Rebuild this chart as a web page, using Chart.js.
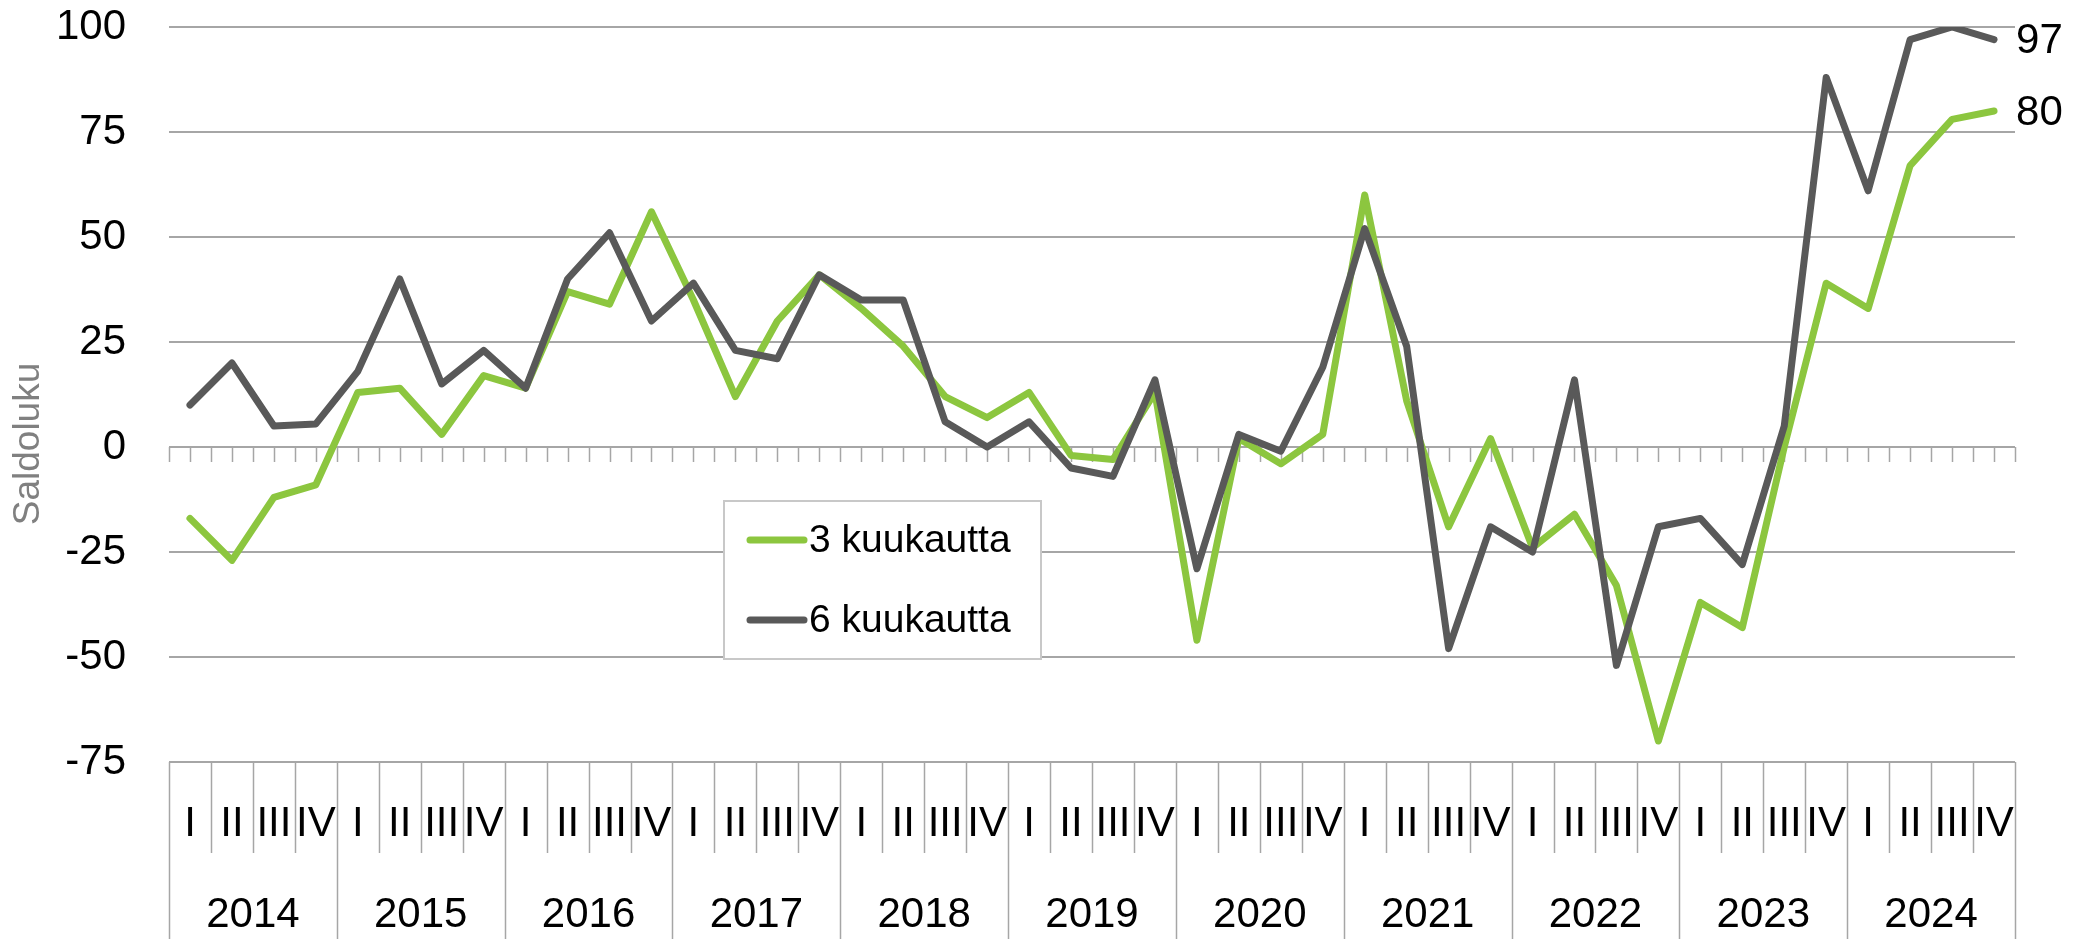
<!DOCTYPE html>
<html><head><meta charset="utf-8">
<script src="https://cdn.jsdelivr.net/npm/chart.js@4.4.1/dist/chart.umd.min.js"></script>
<style>html,body{margin:0;padding:0;background:#fff;overflow:hidden}#wrap{width:2075px;height:939px}</style>
</head><body><div id="wrap"><canvas id="c" width="2075" height="939"></canvas></div>
<script>
// ---- data ----
const years = ['2014','2015','2016','2017','2018','2019','2020','2021','2022','2023','2024'];
const quarters = ['I','II','III','IV'];
const categories = years.flatMap(y => quarters.map(q => y + ' ' + q));
const seriesNames = ['3 kuukautta', '6 kuukautta'];
const series3 = [-17,-27,-12,-9, 13,14,3,17, 14,37,34,56, 35,12,30,41, 33,24,12,7, 13,-2,-3,13,
                 -46,2,-4,3, 60,11,-19,2, -24,-16,-33,-70, -37,-43,0,39, 33,67,78,80];
const series6 = [10,20,5,5.5, 18,40,15,23, 14,40,51,30, 39,23,21,41, 35,35,6,0, 6,-5,-7,16,
                 -29,3,-1,19, 52,24,-48,-19, -25,16,-52,-19, -17,-28,5,88, 61,97,100,97];
const yMin = -75, yMax = 100, yStep = 25;
const yTitle = 'Saldoluku';

// ---- style ----
const FONT = '"Liberation Sans", Arial, sans-serif';
const GRID = '#a6a6a6';
const GREEN = '#8cc63f';
const DARK = '#595959';

const decor = {
  id: 'decor',
  beforeDatasetsDraw(chart) {
    const ctx = chart.ctx, xs = chart.scales.x, ys = chart.scales.y;
    const n = categories.length;
    const w = xs.getPixelForValue(1) - xs.getPixelForValue(0);
    const start = xs.getPixelForValue(0) - w / 2;
    const y0 = ys.getPixelForValue(0);
    ctx.save();
    ctx.strokeStyle = GRID; ctx.lineWidth = 1.5;
    ctx.beginPath();
    for (let k = 0; k <= 2 * n; k++) {
      const px = Math.round(start + k * w / 2) + 0.5;
      ctx.moveTo(px, y0); ctx.lineTo(px, y0 + 15);
    }
    ctx.stroke();
    ctx.restore();
  },
  afterDraw(chart) {
    const ctx = chart.ctx, xs = chart.scales.x, ys = chart.scales.y, ca = chart.chartArea;
    const n = categories.length;
    const w = xs.getPixelForValue(1) - xs.getPixelForValue(0);
    const start = xs.getPixelForValue(0) - w / 2;
    const yb = ca.bottom;
    ctx.save();
    // category axis separators
    ctx.strokeStyle = GRID; ctx.lineWidth = 1.5;
    ctx.beginPath();
    for (let i = 0; i <= n; i++) {
      const px = Math.round(start + i * w) + 0.5;
      ctx.moveTo(px, yb);
      ctx.lineTo(px, i % 4 === 0 ? chart.height : yb + 91);
    }
    ctx.stroke();
    // quarter + year labels
    ctx.fillStyle = '#000';
    ctx.textAlign = 'center'; ctx.textBaseline = 'middle';
    ctx.font = '42px ' + FONT;
    categories.forEach((c, i) => {
      ctx.fillText(quarters[i % 4], xs.getPixelForValue(i), yb + 62);
    });
    years.forEach((y, j) => {
      const cx = (xs.getPixelForValue(j * 4) + xs.getPixelForValue(j * 4 + 3)) / 2;
      ctx.fillText(y, cx, yb + 153);
    });
    // y title
    ctx.save();
    ctx.translate(29, 444);
    ctx.rotate(-Math.PI / 2);
    ctx.fillStyle = '#808080';
    ctx.font = '37px ' + FONT;
    ctx.fillText(yTitle, 0, 0);
    ctx.restore();
    // end labels
    ctx.textAlign = 'left';
    ctx.font = '42px ' + FONT;
    chart.data.datasets.forEach((ds, di) => {
      const meta = chart.getDatasetMeta(di);
      const pt = meta.data[meta.data.length - 1];
      ctx.fillStyle = '#000';
      ctx.fillText(String(ds.data[ds.data.length - 1]), pt.x + 22, pt.y + 2);
    });
    // legend box
    const bx = 724, by = 501, bw = 317, bh = 158;
    ctx.fillStyle = '#fff';
    ctx.fillRect(bx, by, bw, bh);
    ctx.strokeStyle = '#c8c8c8'; ctx.lineWidth = 2;
    ctx.strokeRect(bx, by, bw, bh);
    ctx.font = '39px ' + FONT;
    ctx.textAlign = 'left';
    chart.data.datasets.forEach((ds, di) => {
      const ly = by + 39 + di * 80;
      ctx.strokeStyle = ds.borderColor; ctx.lineWidth = 7; ctx.lineCap = 'round';
      ctx.beginPath(); ctx.moveTo(bx + 26, ly); ctx.lineTo(bx + 80, ly); ctx.stroke();
      ctx.fillStyle = '#000';
      ctx.fillText(ds.label, bx + 85, ly + 1);
    });
    ctx.restore();
  }
};

new Chart(document.getElementById('c'), {
  type: 'line',
  data: {
    labels: categories,
    datasets: [
      { label: seriesNames[0], data: series3, borderColor: GREEN, backgroundColor: GREEN,
        borderWidth: 7, pointRadius: 0, tension: 0, order: 1,
        borderJoinStyle: 'round', borderCapStyle: 'round' },
      { label: seriesNames[1], data: series6, borderColor: DARK, backgroundColor: DARK,
        borderWidth: 7, pointRadius: 0, tension: 0, order: 0,
        borderJoinStyle: 'round', borderCapStyle: 'round' }
    ]
  },
  options: {
    responsive: false,
    devicePixelRatio: 1,
    animation: false,
    layout: { padding: { left: 0, top: 27, right: 60, bottom: 0 } },
    plugins: { legend: { display: false }, tooltip: { enabled: false }, title: { display: false } },
    scales: {
      x: {
        type: 'category', offset: true,
        grid: { display: false, drawTicks: false },
        border: { display: false },
        ticks: { display: false },
        afterFit(s) { s.height = 177; }
      },
      y: {
        min: yMin, max: yMax,
        ticks: { stepSize: yStep, color: '#000', padding: 0, font: { size: 42, family: FONT } },
        grid: { color: GRID, lineWidth: 2, drawTicks: true, tickLength: 43, tickColor: 'rgba(0,0,0,0)' },
        border: { display: false },
        afterFit(s) { s.width = 169; }
      }
    }
  },
  plugins: [decor]
});
</script></body></html>
